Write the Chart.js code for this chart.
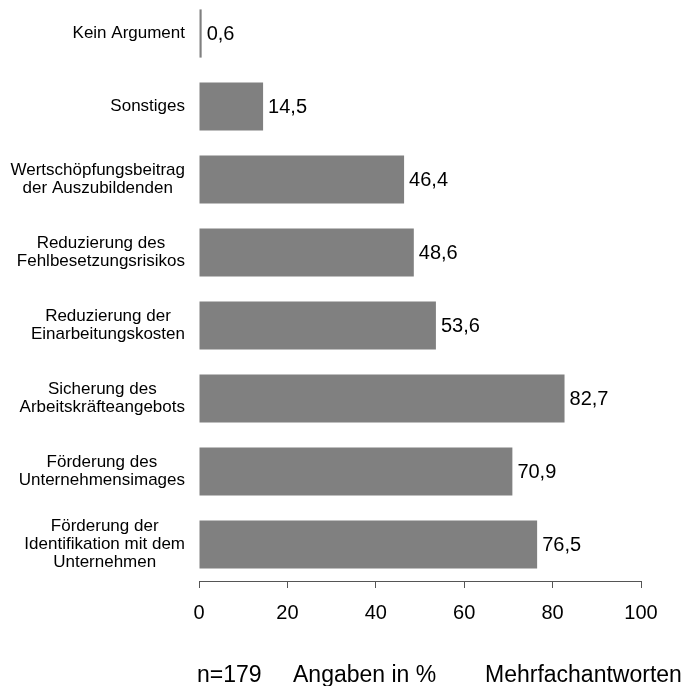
<!DOCTYPE html>
<html lang="de">
<head>
<meta charset="utf-8">
<title>Argumente für die Ausbildung</title>
<script src="https://cdn.jsdelivr.net/npm/chart.js@4/dist/chart.umd.min.js"></script>
<style>
  html, body { margin: 0; padding: 0; background: #fff; overflow: hidden; }
  #wrap { position: relative; width: 692px; height: 686px; }
  #chart { position: absolute; left: 0; top: -3px; }
</style>
</head>
<body>
<div id="wrap"><canvas id="chart" width="692" height="689"></canvas></div>
<script>
// Categories, top to bottom (multi-line labels as arrays of lines)
const categories = [
  ['Kein Argument'],
  ['Sonstiges'],
  ['Wertschöpfungsbeitrag', 'der Auszubildenden'],
  ['Reduzierung des', 'Fehlbesetzungsrisikos'],
  ['Reduzierung der', 'Einarbeitungskosten'],
  ['Sicherung des', 'Arbeitskräfteangebots'],
  ['Förderung des', 'Unternehmensimages'],
  ['Förderung der', 'Identifikation mit dem', 'Unternehmen']
];

// Share of companies naming each argument, in %
const shares = [0.6, 14.5, 46.4, 48.6, 53.6, 82.7, 70.9, 76.5];

// Value axis
const axisMin = 0;
const axisMax = 100;
const axisStep = 20;

// Footnote parts
const footnotes = ['n=179', 'Angaben in %', 'Mehrfachantworten'];

const FONT = '"Liberation Sans", Arial, Helvetica, sans-serif';
const fmt = v => v.toFixed(1).replace('.', ',');

// Category labels: each block right-aligned to the plot, lines centred within the block
const categoryLabels = {
  id: 'categoryLabels',
  afterDraw(chart) {
    const { ctx } = chart;
    const y = chart.scales.y;
    const right = chart.chartArea.left - 14;
    const lh = 18.3;
    ctx.save();
    ctx.font = '17px ' + FONT;
    ctx.fillStyle = '#000';
    ctx.textAlign = 'center';
    ctx.textBaseline = 'middle';
    categories.forEach((lines, i) => {
      const w = Math.max(...lines.map(t => ctx.measureText(t).width));
      const cx = right - w / 2;
      const cy = y.getPixelForValue(i);
      lines.forEach((t, k) => {
        ctx.fillText(t, cx, cy + (k - (lines.length - 1) / 2) * lh);
      });
    });
    ctx.restore();
  }
};

// Value labels at the end of every bar
const valueLabels = {
  id: 'valueLabels',
  afterDatasetsDraw(chart) {
    const { ctx } = chart;
    const meta = chart.getDatasetMeta(0);
    ctx.save();
    ctx.font = '20px ' + FONT;
    ctx.fillStyle = '#000';
    ctx.textAlign = 'left';
    ctx.textBaseline = 'middle';
    meta.data.forEach((bar, i) => {
      ctx.fillText(fmt(shares[i]), bar.x + 5, bar.y + 1);
    });
    ctx.restore();
  }
};

// Footnote line under the axis
const footnoteLine = {
  id: 'footnoteLine',
  afterDraw(chart) {
    const { ctx } = chart;
    const xs = [197, 293, 485];
    ctx.save();
    ctx.font = '23px ' + FONT;
    ctx.fillStyle = '#000';
    ctx.textAlign = 'left';
    ctx.textBaseline = 'alphabetic';
    footnotes.forEach((t, i) => ctx.fillText(t, xs[i], 685));
    ctx.restore();
  }
};

new Chart(document.getElementById('chart'), {
  type: 'bar',
  data: {
    labels: categories,
    datasets: [{
      data: shares,
      backgroundColor: '#808080',
      borderWidth: 0,
      categoryPercentage: 1,
      barPercentage: 0.66
    }]
  },
  options: {
    indexAxis: 'y',
    responsive: false,
    animation: false,
    events: [],
    layout: { padding: { left: 199, right: 51, top: 0, bottom: 65 } },
    plugins: {
      legend: { display: false },
      tooltip: { enabled: false }
    },
    scales: {
      y: {
        display: false,
        offset: true
      },
      x: {
        min: axisMin,
        max: axisMax,
        afterFit(scale) { scale.height = 40; },
        ticks: {
          stepSize: axisStep,
          color: '#000',
          padding: 13,
          font: { family: FONT, size: 20 }
        },
        grid: {
          drawOnChartArea: false,
          drawTicks: true,
          tickLength: 7,
          color: '#555',
          lineWidth: 1
        },
        border: { display: true, color: '#555', width: 1 }
      }
    }
  },
  plugins: [categoryLabels, valueLabels, footnoteLine]
});
</script>
</body>
</html>
